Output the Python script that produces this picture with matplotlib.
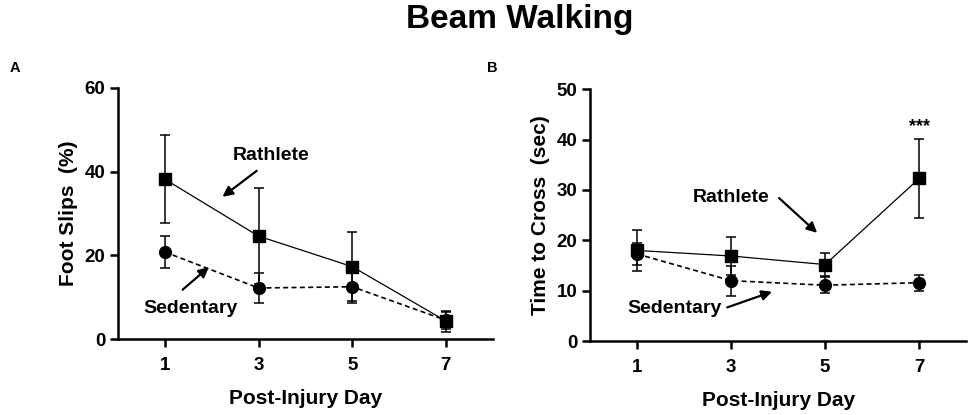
import matplotlib
matplotlib.use('Agg')
import matplotlib.pyplot as plt

plt.rcParams['font.family'] = ['Liberation Sans', 'DejaVu Sans']
plt.rcParams['font.weight'] = 'bold'

days = [1, 3, 5, 7]
day_labels = ['1', '3', '5', '7']

# panel A: foot slips (%)
slips_rathlete = [38.2, 24.6, 17.3, 4.3]
slips_rathlete_err = [10.5, 11.4, 8.3, 2.5]
slips_sedentary = [20.8, 12.2, 12.5, 4.5]
slips_sedentary_err = [3.8, 3.7, 4.0, 2.0]

# panel B: time to cross (sec)
time_rathlete = [18.0, 16.9, 15.2, 32.3]
time_rathlete_err = [4.0, 3.8, 2.3, 7.9]
time_sedentary = [17.3, 12.0, 11.1, 11.6]
time_sedentary_err = [2.1, 3.0, 1.6, 1.6]


def draw_panel(ax, rath, rath_err, sed, sed_err, ymax, ystep, ylabel):
    ax.errorbar(days, rath, yerr=rath_err, color='black', lw=0.9, ls='-',
                marker='s', ms=8, capsize=3.5, elinewidth=1.1, capthick=1.1,
                zorder=3)
    ax.errorbar(days, sed, yerr=sed_err, color='black', lw=1.2, ls=(0, (3, 2)),
                marker='o', ms=8.5, capsize=3.5, elinewidth=1.1, capthick=1.1,
                zorder=3)
    ax.set_xlim(0, 8)
    ax.set_ylim(0, ymax)
    ax.set_xticks(days)
    ax.set_xticklabels(day_labels)
    ax.set_yticks(range(0, ymax + 1, ystep))
    for side in ('top', 'right'):
        ax.spines[side].set_visible(False)
    for side in ('left', 'bottom'):
        ax.spines[side].set_linewidth(1.8)
    ax.tick_params(width=1.8, length=6, labelsize=13.5)
    ax.tick_params(axis='x', pad=7)
    ax.tick_params(axis='y', pad=3)
    for lab in ax.get_xticklabels() + ax.get_yticklabels():
        lab.set_fontweight('bold')
    ax.set_xlabel('Post-Injury Day', fontsize=15, fontweight='bold', labelpad=11)
    ax.set_ylabel(ylabel, fontsize=15, fontweight='bold', labelpad=5)


fig = plt.figure(figsize=(9.76, 4.15), dpi=100)
ax_a = fig.add_axes([0.1209, 0.183, 0.384, 0.605])
ax_b = fig.add_axes([0.6045, 0.178, 0.3855, 0.607])

draw_panel(ax_a, slips_rathlete, slips_rathlete_err, slips_sedentary,
           slips_sedentary_err, 60, 20, 'Foot Slips  (%)')
draw_panel(ax_b, time_rathlete, time_rathlete_err, time_sedentary,
           time_sedentary_err, 50, 10, 'Time to Cross  (sec)')

arrow = dict(arrowstyle='-|>', color='black', lw=1.6, mutation_scale=15,
             shrinkA=0, shrinkB=0)
ann = dict(fontsize=14, fontweight='bold', ha='center', va='center')

# panel A annotations
ax_a.annotate('', xy=(2.23, 34.0), xytext=(2.96, 40.2), arrowprops=arrow)
ax_a.text(3.27, 43.8, 'Rathlete', **ann)
ax_a.annotate('', xy=(1.94, 17.2), xytext=(1.38, 11.8), arrowprops=arrow)
ax_a.text(1.55, 7.4, 'Sedentary', **ann)

# panel B annotations
ax_b.annotate('', xy=(4.83, 21.5), xytext=(4.02, 28.4), arrowprops=arrow)
ax_b.text(3.0, 28.6, 'Rathlete', **ann)
ax_b.annotate('', xy=(3.87, 9.8), xytext=(2.92, 6.7), arrowprops=arrow)
ax_b.text(1.79, 6.5, 'Sedentary', **ann)
ax_b.text(7, 42.6, '***', fontsize=13, fontweight='bold', ha='center',
          va='center')

fig.text(0.532, 0.953, 'Beam Walking', fontsize=24, fontweight='bold',
         ha='center', va='center')
fig.text(0.015, 0.836, 'A', fontsize=10.5, fontweight='bold', ha='center',
         va='center')
fig.text(0.504, 0.836, 'B', fontsize=10.5, fontweight='bold', ha='center',
         va='center')

fig.savefig('out.png', dpi=100)
